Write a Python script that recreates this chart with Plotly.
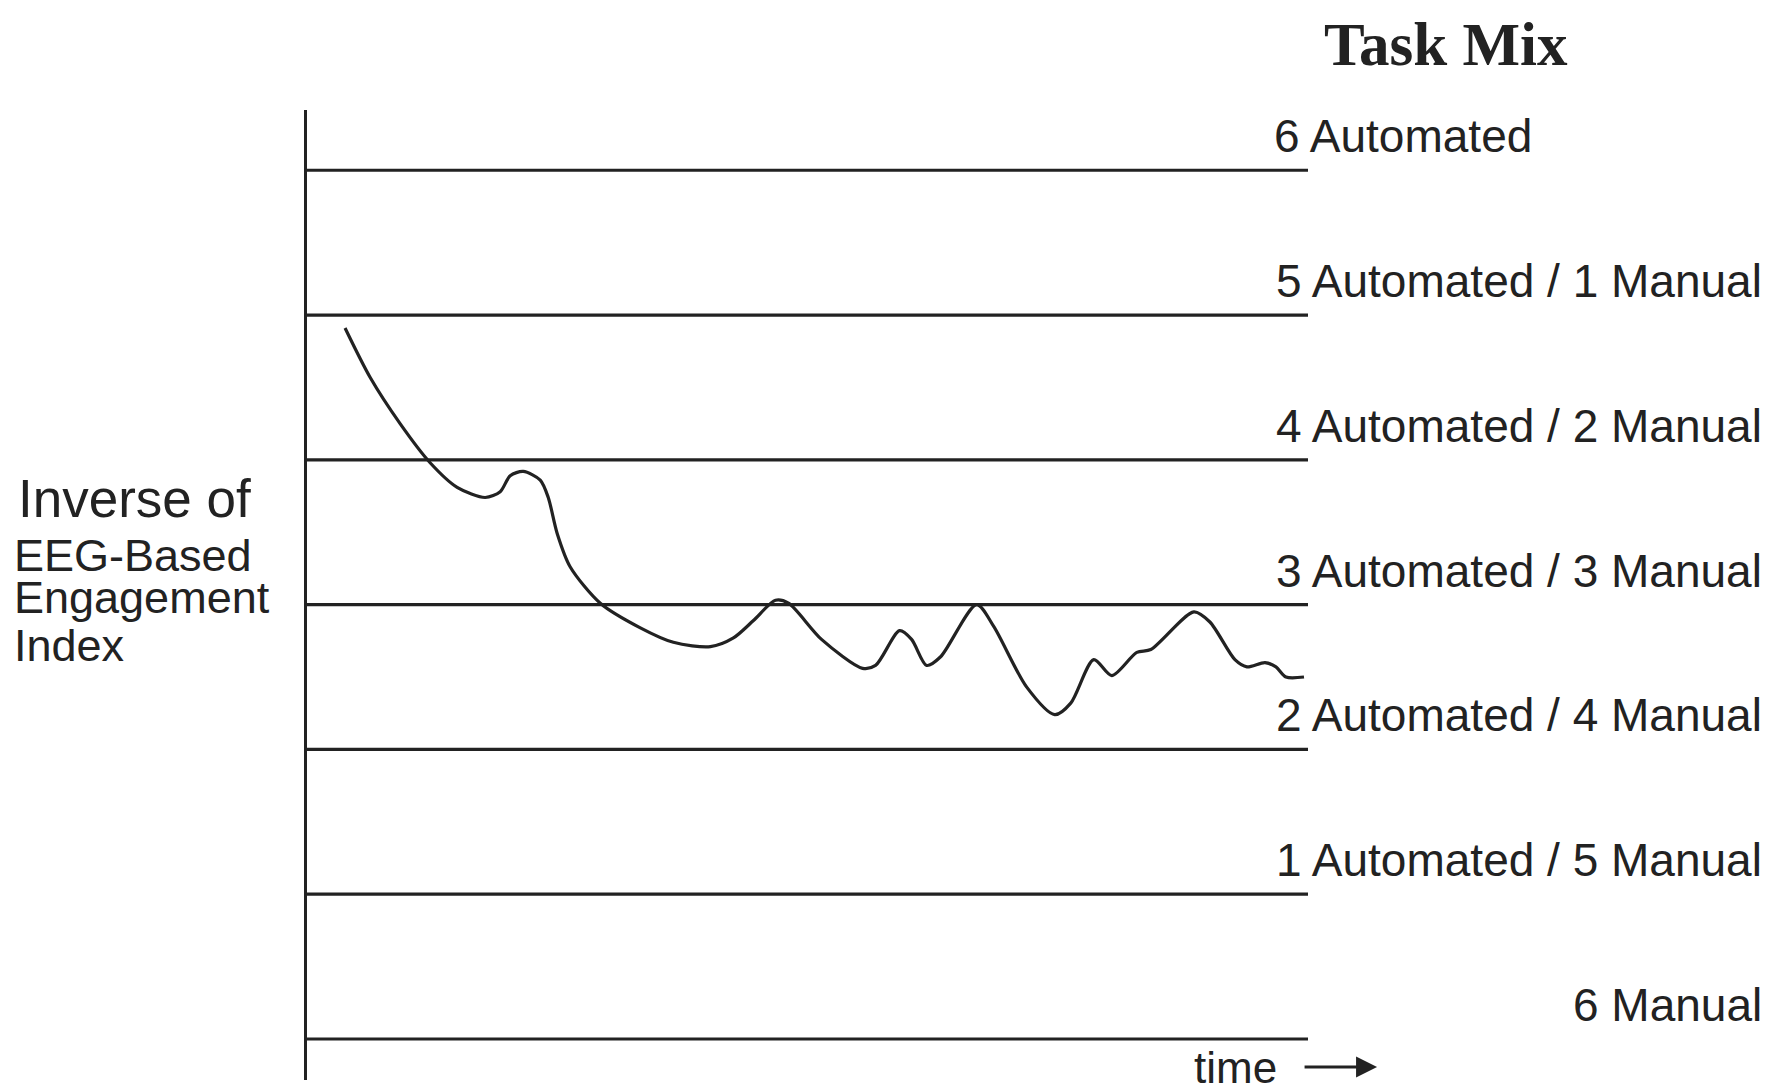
import plotly.graph_objects as go

# Task-mix threshold levels (0 = bottom line, 6 = top line)
levels = [0, 1, 2, 3, 4, 5, 6]
level_labels = ["6 Manual", "1 Automated / 5 Manual", "2 Automated / 4 Manual",
                "3 Automated / 3 Manual", "4 Automated / 2 Manual",
                "5 Automated / 1 Manual", "6 Automated"]

# Curve: inverse of EEG-based engagement index vs time (0-100)
time_vals = [3.8, 6.3, 9.3, 12.3, 15.0, 17.8, 19.3, 20.3, 21.6, 23.3, 24.1, 25.0, 26.3,
             29.3, 33.3, 36.6, 40.3, 42.6, 44.6, 46.8, 48.1, 51.4, 55.5, 56.8, 59.2,
             60.4, 61.9, 63.3, 66.9, 68.6, 71.9, 74.7, 76.3, 78.6, 80.4, 82.9, 84.3,
             88.6, 90.2, 92.7, 93.9, 95.7, 96.8, 97.8, 99.6]
index_vals = [4.91, 4.57, 4.25, 3.98, 3.81, 3.74, 3.78, 3.89, 3.92, 3.86, 3.74, 3.49, 3.26,
              3.01, 2.84, 2.74, 2.71, 2.77, 2.89, 3.03, 3.01, 2.76, 2.56, 2.58, 2.82,
              2.76, 2.58, 2.64, 3.00, 2.85, 2.43, 2.24, 2.32, 2.62, 2.51, 2.67, 2.69,
              2.95, 2.88, 2.62, 2.57, 2.60, 2.57, 2.50, 2.50]

INK = "#222222"
SANS = "Liberation Sans, Arial, Helvetica, sans-serif"

fig = go.Figure()

# horizontal level lines
for lv in levels:
    fig.add_trace(go.Scatter(x=[0, 100], y=[lv, lv], mode="lines",
                             line=dict(color=INK, width=3.2), hoverinfo="skip",
                             showlegend=False, cliponaxis=False))

fig.add_trace(go.Scatter(x=time_vals, y=index_vals, mode="lines",
                         line=dict(color=INK, width=3.2, shape="spline", smoothing=0.8),
                         showlegend=False))

annotations = []
for lv, lab in zip(levels, level_labels):
    if lab == "6 Automated":
        annotations.append(dict(x=0.965, xref="paper", y=lv + 0.235, yref="y",
                                text=lab, showarrow=False, xanchor="left", yanchor="middle",
                                borderpad=0, font=dict(family=SANS, size=46, color=INK)))
    else:
        annotations.append(dict(x=1.4546, xref="paper", y=lv + 0.235, yref="y",
                                text=lab, showarrow=False, xanchor="right", yanchor="middle",
                                borderpad=0, font=dict(family=SANS, size=46, color=INK)))

annotations.append(dict(x=1.138, xref="paper", y=1.068, yref="paper", text="<b>Task Mix</b>",
                        showarrow=False, xanchor="center", yanchor="middle", borderpad=0,
                        font=dict(family="Liberation Serif, Times New Roman, serif", size=61, color=INK)))

left_lines = [("Inverse of", -0.2897, 0.599, 53), ("EEG-Based", -0.2937, 0.541, 45),
              ("Engagement", -0.2937, 0.497, 45), ("Index", -0.2937, 0.448, 45)]
for txt, xp, yp, fs in left_lines:
    annotations.append(dict(x=xp, xref="paper", y=yp, yref="paper", text=txt,
                            showarrow=False, xanchor="left", yanchor="middle", borderpad=0,
                            font=dict(family=SANS, size=fs, color=INK)))

annotations.append(dict(x=0.885, xref="paper", y=0.0125, yref="paper", text="time",
                        showarrow=False, xanchor="left", yanchor="middle", borderpad=0,
                        font=dict(family=SANS, size=44, color=INK)))
annotations.append(dict(x=1.069, xref="paper", y=0.0134, yref="paper", text="",
                        showarrow=True, ax=-74, ay=0, arrowhead=2, arrowsize=1.4,
                        arrowwidth=3, arrowcolor=INK))

fig.update_layout(
    width=1769, height=1091,
    margin=dict(l=299, r=469, t=102, b=19),
    paper_bgcolor="white", plot_bgcolor="white",
    xaxis=dict(range=[0, 100], showgrid=False, zeroline=False, showticklabels=False,
               showline=False, ticks=""),
    yaxis=dict(range=[-0.283, 6.416], showgrid=False, zeroline=False, showticklabels=False,
               showline=True, linecolor=INK, linewidth=3.2, ticks=""),
    annotations=annotations,
    showlegend=False,
)

fig.write_html("out.html")
